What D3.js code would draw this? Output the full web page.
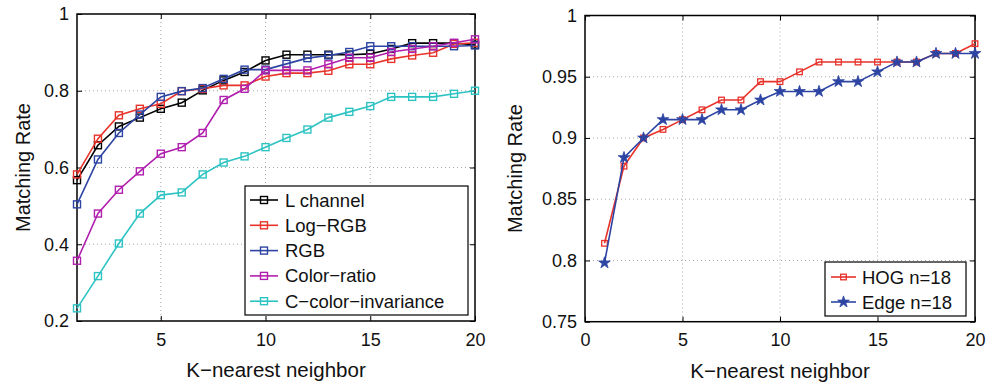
<!DOCTYPE html>
<html><head><meta charset="utf-8">
<script src="https://cdn.jsdelivr.net/npm/d3@7"></script>
<style>body{margin:0;background:#fff}svg{display:block}text{font-family:"Liberation Sans",Arial,sans-serif}</style>
</head><body><svg id="c" width="997" height="387"></svg>
<script>
const kLeft = d3.range(1, 21);
const lChannel = [0.567,0.658,0.707,0.730,0.753,0.769,0.801,0.827,0.849,0.879,0.894,0.894,0.894,0.894,0.896,0.909,0.924,0.924,0.924,0.920];
const logRGB = [0.582,0.675,0.736,0.753,0.766,0.799,0.805,0.814,0.814,0.837,0.846,0.846,0.852,0.869,0.869,0.883,0.892,0.899,0.922,0.925];
const rgb = [0.504,0.621,0.690,0.738,0.784,0.799,0.807,0.831,0.855,0.855,0.870,0.885,0.892,0.901,0.916,0.916,0.916,0.916,0.916,0.918];
const colorRatio = [0.357,0.480,0.542,0.590,0.636,0.653,0.690,0.776,0.805,0.853,0.853,0.853,0.869,0.886,0.886,0.901,0.909,0.916,0.925,0.934];
const cColorInv = [0.233,0.317,0.402,0.480,0.528,0.535,0.582,0.613,0.629,0.653,0.677,0.699,0.730,0.745,0.760,0.784,0.784,0.784,0.792,0.800];
const leftNames = ["L channel","Log\u2212RGB","RGB","Color\u2212ratio","C\u2212color\u2212invariance"];
const leftColors = ["#000000","#e8332b","#2d44a3","#b01fae","#2ec3c3"];
const leftYTicks = [0.2,0.4,0.6,0.8,1];
const leftXTicks = [5,10,15,20];

const kRight = d3.range(1, 21);
const hog = [0.814,0.877,0.900,0.907,0.915,0.923,0.931,0.931,0.946,0.946,0.954,0.962,0.962,0.962,0.962,0.962,0.962,0.969,0.969,0.977];
const edge = [0.798,0.884,0.900,0.915,0.915,0.915,0.923,0.923,0.931,0.938,0.938,0.938,0.946,0.946,0.954,0.962,0.962,0.969,0.969,0.969];
const rightNames = ["HOG n=18","Edge n=18"];
const rightColors = ["#e8332b","#2d44a3"];
const rightYTicks = [0.75,0.8,0.85,0.9,0.95,1];
const rightXTicks = [0,5,10,15,20];

const svg = d3.select("#c");
const fmt = d => String(d);

function panel(o){
  const g = svg.append("g");
  const x = d3.scaleLinear().domain(o.xd).range([o.l, o.r]);
  const y = d3.scaleLinear().domain(o.yd).range([o.b, o.t]);
  g.selectAll(".gx").data(o.xt.filter(d=>d>o.xd[0]&&d<o.xd[1])).enter().append("line")
    .attr("x1",d=>x(d)).attr("x2",d=>x(d)).attr("y1",o.t).attr("y2",o.b)
    .attr("stroke","#a8a8a8").attr("stroke-width",1).attr("stroke-dasharray","1,3");
  g.selectAll(".gy").data(o.yt.filter(d=>d>o.yd[0]&&d<o.yd[1])).enter().append("line")
    .attr("y1",d=>y(d)).attr("y2",d=>y(d)).attr("x1",o.l).attr("x2",o.r)
    .attr("stroke","#a8a8a8").attr("stroke-width",1).attr("stroke-dasharray","1,3");
  const ax = [
    [d3.axisBottom(x).tickValues(o.xt).tickSizeInner(-5).tickSizeOuter(0).tickPadding(12).tickFormat(fmt), `translate(0,${o.b})`],
    [d3.axisTop(x).tickValues(o.xt).tickSizeInner(-5).tickSizeOuter(0).tickFormat(""), `translate(0,${o.t})`],
    [d3.axisLeft(y).tickValues(o.yt).tickSizeInner(-5).tickSizeOuter(0).tickPadding(8).tickFormat(fmt), `translate(${o.l},0)`],
    [d3.axisRight(y).tickValues(o.yt).tickSizeInner(-5).tickSizeOuter(0).tickFormat(""), `translate(${o.r},0)`]
  ];
  ax.forEach(([a,tr])=>{
    const ag = g.append("g").attr("transform",tr).call(a);
    ag.select(".domain").remove();
    ag.selectAll("line").attr("stroke","#000");
    ag.selectAll("text").attr("font-size",18).attr("fill","#111");
  });
  g.append("rect").attr("x",o.l).attr("y",o.t).attr("width",o.r-o.l).attr("height",o.b-o.t)
    .attr("fill","none").attr("stroke","#000").attr("stroke-width",1.5);
  o.series.forEach((s)=>{
    const line = d3.line().x((d,j)=>x(o.k[j])).y(d=>y(d));
    g.append("path").datum(s.v).attr("d",line).attr("fill","none").attr("stroke",s.c).attr("stroke-width",1.6);
    s.v.forEach((v,j)=>drawMarker(g, s.m, x(o.k[j]), y(v), s.c));
  });
  g.append("text").attr("x",(o.l+o.r)/2).attr("y",o.b+56).attr("text-anchor","middle").attr("font-size",20.5).attr("fill","#111").text("K\u2212nearest neighbor");
  g.append("text").attr("transform",`translate(${o.yl},${(o.t+o.b)/2}) rotate(-90)`).attr("text-anchor","middle").attr("font-size",20).attr("fill","#111").text("Matching Rate");
  const L = o.legend;
  g.append("rect").attr("x",L.x).attr("y",L.y).attr("width",L.w).attr("height",L.h).attr("fill","#fff").attr("stroke","#000").attr("stroke-width",1.2);
  o.series.forEach((s,i)=>{
    const yy = L.y0 + i*L.dy;
    g.append("line").attr("x1",L.lx).attr("x2",L.lx+L.lw).attr("y1",yy).attr("y2",yy).attr("stroke",s.c).attr("stroke-width",1.6);
    drawMarker(g, s.m, L.lx+L.lw/2, yy, s.c);
    g.append("text").attr("x",L.tx).attr("y",yy+6.5).attr("font-size",18.5).attr("fill","#111").text(s.n);
  });
}
function drawMarker(g, m, cx, cy, c){
  if(m==="sq"){
    g.append("rect").attr("x",cx-3.5).attr("y",cy-3.5).attr("width",7).attr("height",7)
      .attr("fill","none").attr("stroke",c).attr("stroke-width",1.4);
  } else if(m==="sqs"){
    g.append("rect").attr("x",cx-2.8).attr("y",cy-2.8).attr("width",5.6).attr("height",5.6)
      .attr("fill","none").attr("stroke",c).attr("stroke-width",1.3);
  } else {
    g.append("path").attr("d",d3.symbol(d3.symbolStar,42)()).attr("transform",`translate(${cx},${cy})`)
      .attr("fill",c).attr("stroke",c).attr("stroke-width",0.8);
  }
}

panel({l:77,r:475,t:14,b:321,xd:[1,20],yd:[0.2,1],xt:leftXTicks,yt:leftYTicks,k:kLeft,yl:30,
  series:[lChannel,logRGB,rgb,colorRatio,cColorInv].map((v,i)=>({v,c:leftColors[i],n:leftNames[i],m:"sq"})),
  legend:{x:245,y:186,w:223,h:129,y0:200,dy:25.3,lx:250,lw:28,tx:285}});
panel({l:585,r:975,t:15.5,b:321.7,xd:[0,20],yd:[0.75,1],xt:rightXTicks,yt:rightYTicks,k:kRight,yl:522,
  series:[hog,edge].map((v,i)=>({v,c:rightColors[i],n:rightNames[i],m:i===0?"sqs":"star"})),
  legend:{x:825,y:262,w:141,h:54,y0:277,dy:25,lx:831,lw:25,tx:862}});
</script></body></html>
